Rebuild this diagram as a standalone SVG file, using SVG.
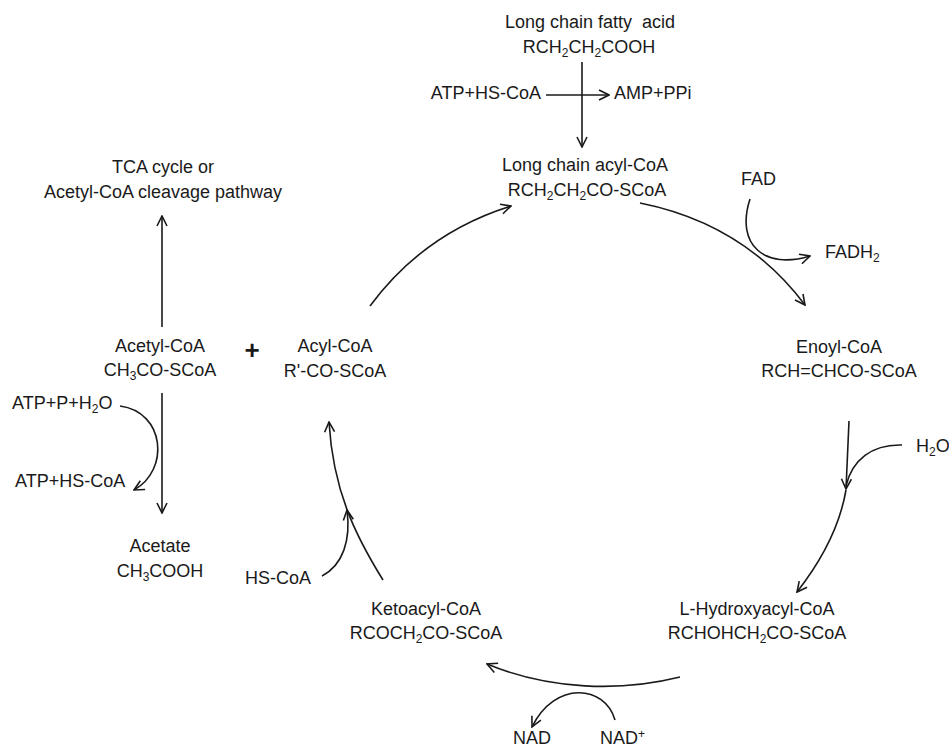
<svg xmlns="http://www.w3.org/2000/svg" width="949" height="749" viewBox="0 0 949 749">
<defs>
<style>
text{font-family:"Liberation Sans",Arial,sans-serif;font-size:18px;fill:#1a1a1a}
.m{text-anchor:middle}
.e{text-anchor:end}
.s{font-size:12px;baseline-shift:-4px}
.p{font-size:12px;baseline-shift:6px}
.c path{fill:none;stroke:#1a1a1a;stroke-width:1.6}
.a{marker-end:url(#ah)}
</style>
<marker id="ah" viewBox="0 0 12 12" refX="11" refY="6" markerWidth="12" markerHeight="12" markerUnits="userSpaceOnUse" orient="auto">
<path d="M1,1 L11,6 L1,11" fill="none" stroke="#1a1a1a" stroke-width="1.6"/>
</marker>
</defs>
<rect width="949" height="749" fill="#fff"/>

<g id="fatty-acid"><text class="m" x="590" y="28">Long chain fatty&#160; acid</text><text class="m" x="589" y="53">RCH<tspan class="s">2</tspan>CH<tspan class="s">2</tspan>COOH</text></g>
<g id="atp-hscoa-top"><text class="e" x="541" y="99">ATP+HS-CoA</text></g>
<g id="amp-ppi"><text x="614" y="99">AMP+PPi</text></g>
<g id="long-acyl-coa"><text class="m" x="585" y="171">Long chain acyl-CoA</text><text class="m" x="587" y="196">RCH<tspan class="s">2</tspan>CH<tspan class="s">2</tspan>CO-SCoA</text></g>
<g id="fad"><text x="741" y="185">FAD</text></g>
<g id="fadh2"><text x="825" y="258">FADH<tspan class="s">2</tspan></text></g>
<g id="enoyl-coa"><text class="m" x="839" y="353">Enoyl-CoA</text><text class="m" x="839" y="377">RCH=CHCO-SCoA</text></g>
<g id="h2o"><text x="916" y="452">H<tspan class="s">2</tspan>O</text></g>
<g id="hydroxyacyl-coa"><text class="m" x="757" y="615">L-Hydroxyacyl-CoA</text><text class="m" x="757" y="639">RCHOHCH<tspan class="s">2</tspan>CO-SCoA</text></g>
<g id="nad-plus"><text x="600" y="744">NAD<tspan class="p">+</tspan></text></g>
<g id="nad"><text class="m" x="532" y="744">NAD</text></g>
<g id="ketoacyl-coa"><text class="m" x="426" y="615">Ketoacyl-CoA</text><text class="m" x="426" y="639">RCOCH<tspan class="s">2</tspan>CO-SCoA</text></g>
<g id="hs-coa"><text x="245" y="584">HS-CoA</text></g>
<g id="acyl-coa"><text class="m" x="335" y="352">Acyl-CoA</text><text class="m" x="335" y="377">R'-CO-SCoA</text></g>
<g id="plus"><text x="252" y="359" style="font-size:26px;font-weight:bold;text-anchor:middle">+</text></g>
<g id="acetyl-coa"><text class="m" x="160" y="352">Acetyl-CoA</text><text class="m" x="160" y="376">CH<tspan class="s">3</tspan>CO-SCoA</text></g>
<g id="tca"><text class="m" x="163" y="173">TCA cycle or</text><text class="m" x="163" y="198">Acetyl-CoA cleavage pathway</text></g>
<g id="atp-p-h2o"><text x="12" y="409">ATP+P+H<tspan class="s">2</tspan>O</text></g>
<g id="atp-hscoa-left"><text x="15" y="487">ATP+HS-CoA</text></g>
<g id="acetate"><text class="m" x="160" y="552">Acetate</text><text class="m" x="160" y="577">CH<tspan class="s">3</tspan>COOH</text></g>

<g id="connectors" class="c">
<path class="a" d="M582,62 L582,147"/>
<path class="a" d="M546,95 L609,95"/>
<path class="a" d="M370,306 Q424,233 511,206"/>
<path class="a" d="M640,203 C700,215 760,245 805,305"/>
<path class="a" d="M750,199 C735,245 765,270 810,256"/>
<path class="a" d="M849,421 L846,489"/>
<path d="M902,445 C872,444 852,460 846,486"/>
<path class="a" d="M846,490 C840,525 822,560 797,592"/>
<path class="a" d="M680,677 C620,692 550,690 487,664"/>
<path class="a" d="M615,720 C605,685 555,680 532,727"/>
<path class="a" d="M383,580 C355,535 333,490 329,422"/>
<path class="a" d="M322,576 C343,565 351,540 347,510"/>
<path class="a" d="M162,327 L162,216"/>
<path class="a" d="M162,393 L162,513"/>
<path class="a" d="M120,406 C165,412 170,470 134,490"/>
</g>
</svg>
